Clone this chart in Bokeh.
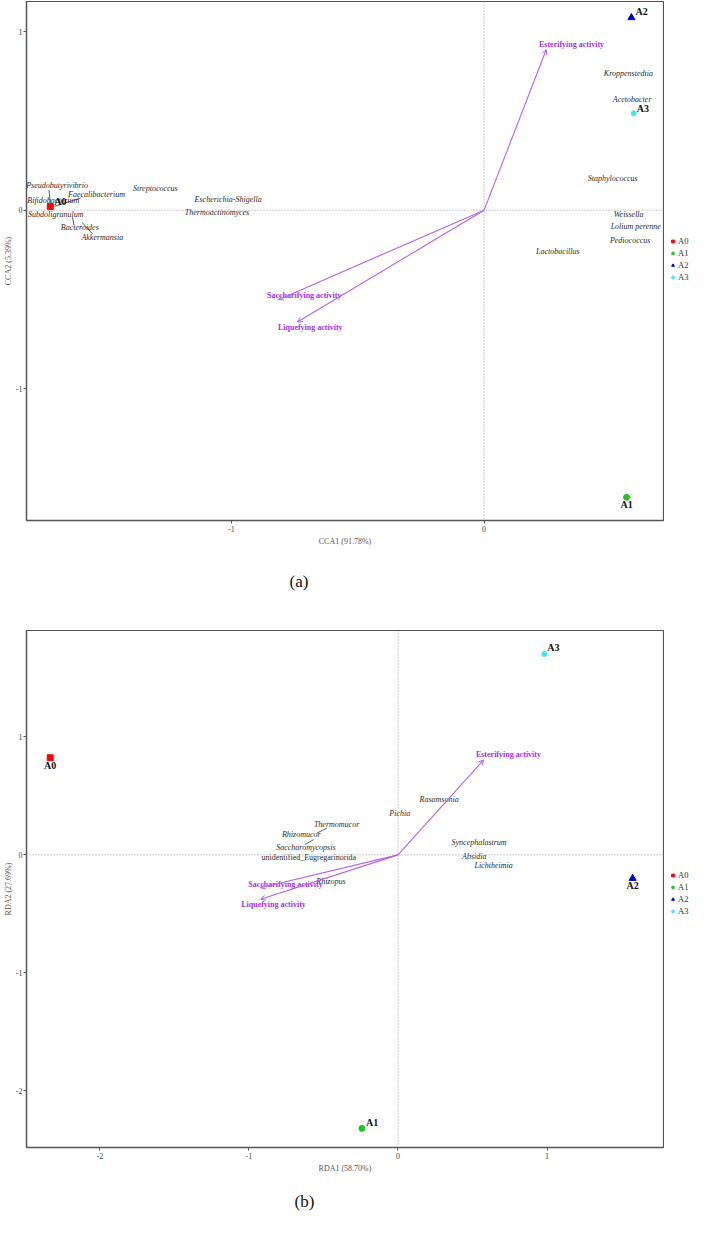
from bokeh.plotting import figure
from bokeh.models import (Range1d, FixedTicker, Span, Arrow, OpenHead, Legend,
                          LegendItem, Title, ColumnDataSource)
from bokeh.layouts import column, row
from bokeh.embed import file_html
from bokeh.resources import INLINE
from bokeh.core.properties import value

# ---------------- data: (a) CCA ----------------
samples = ["A0", "A1", "A2", "A3"]
cca_sx = [-1.717, 0.564, 0.583, 0.592]
cca_sy = [0.020, -1.607, 1.078, 0.542]

cca_env = ["Esterifying activity", "Saccharifying activity", "Liquefying activity"]
cca_env_x = [0.246, -0.814, -0.739]
cca_env_y = [0.899, -0.501, -0.626]
cca_env_lx = [0.346, -0.712, -0.688]
cca_env_ly = [0.927, -0.477, -0.654]

cca_species = ["Pseudobutyrivibrio", "Streptococcus", "Faecalibacterium", "Bifidobacterium",
               "Escherichia-Shigella", "Subdoligranulum", "Thermoactinomyces", "Bacteroides",
               "Akkermansia", "Kroppenstedtia", "Acetobacter", "Staphylococcus", "Weissella",
               "Lolium perenne", "Pediococcus", "Lactobacillus"]
cca_sp_x = [-1.690, -1.301, -1.534, -1.705, -1.013, -1.695, -1.057, -1.600,
            -1.511, 0.571, 0.586, 0.509, 0.572, 0.600, 0.578, 0.292]
cca_sp_y = [0.138, 0.119, 0.085, 0.054, 0.060, -0.024, -0.011, -0.097,
            -0.151, 0.767, 0.622, 0.180, -0.026, -0.091, -0.169, -0.231]
# leader lines (species score -> repelled label)
cca_seg_x0 = [-1.716, -1.700, -1.629, -1.592]
cca_seg_y0 = [0.028, 0.022, -0.039, -0.067]
cca_seg_x1 = [-1.722, -1.598, -1.623, -1.550]
cca_seg_y1 = [0.112, 0.067, -0.085, -0.132]

cca_xlim = [-1.811, 0.710]
cca_ylim = [-1.737, 1.168]
cca_xticks = [-1, 0]
cca_yticks = [-1, 0, 1]
cca_xlabel = "CCA1 (91.78%)"
cca_ylabel = "CCA2 (5.39%)"

# ---------------- data: (b) RDA ----------------
rda_sx = [-2.333, -0.242, 1.574, 0.981]
rda_sy = [0.823, -2.317, -0.199, 1.702]

rda_env = ["Esterifying activity", "Saccharifying activity", "Liquefying activity"]
rda_env_x = [0.574, -0.922, -0.922]
rda_env_y = [0.804, -0.278, -0.376]
rda_env_lx = [0.741, -0.755, -0.835]
rda_env_ly = [0.851, -0.249, -0.418]

rda_species = ["Rasamsonia", "Pichia", "Thermomucor", "Rhizomucor", "Saccharomycopsis",
               "unidentified_Eugregarinorida", "Rhizopus", "Syncephalastrum", "Absidia",
               "Lichtheimia"]
rda_sp_x = [0.276, 0.012, -0.412, -0.649, -0.618, -0.598, -0.450, 0.544, 0.512, 0.641]
rda_sp_y = [0.467, 0.349, 0.261, 0.172, 0.059, -0.025, -0.222, 0.101, -0.011, -0.089]
rda_seg_x0 = [-0.543, -0.623]
rda_seg_y0 = [0.185, 0.088]
rda_seg_x1 = [-0.476, -0.565]
rda_seg_y1 = [0.227, 0.130]

rda_xlim = [-2.492, 1.781]
rda_ylim = [-2.479, 1.901]
rda_xticks = [-2, -1, 0, 1]
rda_yticks = [-2, -1, 0, 1]
rda_xlabel = "RDA1 (58.70%)"
rda_ylabel = "RDA2 (27.69%)"

# ---------------- styles ----------------
SERIF = "Liberation Serif"
marker_types = ["square", "circle", "triangle", "circle"]
marker_colors = ["#FF0000", "#1EC81E", "#0000CC", "#3CEBF0"]
marker_sizes = [6, 6, 7, 5]
ENV_LINE = "#B462F2"
ENV_TEXT = "#A531F0"
SP_TEXT = "#2b2b2b"
AX_COL = "#555555"
MAIN_W = 664
LEG_W = 690 - MAIN_W


def make_panel(sx, sy, env, ex, ey, elx, ely, sp, spx, spy, segs, xlim, ylim,
               xticks, yticks, xlabel, ylabel, lab_off, tag, tag_offset, tag_standoff,
               height, border_top, border_bottom, upright=()):
    p = figure(width=MAIN_W, height=height, output_backend="svg", toolbar_location=None,
               x_range=Range1d(*xlim), y_range=Range1d(*ylim),
               min_border_left=26, min_border_right=1,
               min_border_top=border_top, min_border_bottom=border_bottom)
    p.grid.visible = False
    p.outline_line_color = AX_COL
    p.outline_line_width = 1.2
    p.background_fill_color = "white"
    for ax, ticks, lab in ((p.xaxis, xticks, xlabel), (p.yaxis, yticks, ylabel)):
        ax.ticker = FixedTicker(ticks=ticks)
        ax.major_label_overrides = {t: ("-%d" % abs(t) if t < 0 else "%d" % t) for t in ticks}
        ax.minor_tick_line_color = None
        ax.axis_line_color = AX_COL
        ax.axis_line_width = 1.3
        ax.major_tick_line_color = AX_COL
        ax.major_tick_out = 3
        ax.major_tick_in = 0
        ax.major_label_text_font = SERIF
        ax.major_label_text_font_size = "8px"
        ax.major_label_text_color = "#444444"
        ax.major_label_standoff = 2
        ax.axis_label = lab
        ax.axis_label_text_font = SERIF
        ax.axis_label_text_font_size = "8px"
        ax.axis_label_text_font_style = "normal"
        ax.axis_label_text_color = "#555555"
        ax.axis_label_standoff = 2
    p.yaxis.major_label_standoff = 1
    p.yaxis.axis_label_standoff = 0

    p.add_layout(Span(location=0, dimension="width", line_color="#9a9a9a",
                      line_dash="1 2", line_width=1))
    p.add_layout(Span(location=0, dimension="height", line_color="#9a9a9a",
                      line_dash="1 2", line_width=1))

    # leader lines
    p.segment(x0=segs[0], y0=segs[1], x1=segs[2], y1=segs[3], line_color="#333333",
              line_width=0.8)

    # species labels
    it = [i for i, s in enumerate(sp) if s not in upright]
    up = [i for i, s in enumerate(sp) if s in upright]
    for idx, style in ((it, "italic"), (up, "normal")):
        if not idx:
            continue
        src = ColumnDataSource(dict(x=[spx[i] for i in idx], y=[spy[i] for i in idx],
                                    t=[sp[i] for i in idx]))
        p.text(x="x", y="y", text="t", source=src, text_font=value(SERIF),
               text_font_style=style, text_font_size="8px", text_color=SP_TEXT,
               text_align="center", text_baseline="middle")

    # environmental arrows
    asrc = ColumnDataSource(dict(x0=[0] * len(ex), y0=[0] * len(ey), x1=ex, y1=ey))
    p.add_layout(Arrow(end=OpenHead(size=5, line_color=ENV_LINE, line_width=1),
                       x_start="x0", y_start="y0", x_end="x1", y_end="y1", source=asrc,
                       line_color=ENV_LINE, line_width=1.1))
    p.text(x=elx, y=ely, text=env, text_font=value(SERIF), text_font_style="bold",
           text_font_size="8px", text_color=ENV_TEXT, text_align="center",
           text_baseline="middle")

    # samples
    for i, name in enumerate(samples):
        p.scatter(x=[sx[i]], y=[sy[i]], marker=marker_types[i], size=marker_sizes[i],
                  fill_color=marker_colors[i], line_color=marker_colors[i])
        dx, dy, al = lab_off[i]
        p.text(x=[sx[i]], y=[sy[i]], text=[name], x_offset=dx, y_offset=dy,
               text_font=value(SERIF), text_font_style="bold", text_font_size="10px",
               text_color="#111111", text_align=al, text_baseline="middle")

    p.add_layout(Title(text=tag, align="left", offset=tag_offset, standoff=tag_standoff,
                       text_font=SERIF, text_font_size="17px", text_font_style="normal",
                       text_color="#111111"), "below")
    return p


def make_legend(height, vy):
    q = figure(width=LEG_W, height=height, output_backend="svg", toolbar_location=None,
               x_range=Range1d(0, 1), y_range=Range1d(0, 1),
               x_axis_type=None, y_axis_type=None,
               min_border_left=0, min_border_right=0, min_border_top=0,
               min_border_bottom=0)
    q.grid.visible = False
    q.outline_line_color = None
    items = []
    for i, name in enumerate(samples):
        # legend-only renderer (its point lies outside the visible range)
        r = q.scatter(x=[-10], y=[-10], marker=marker_types[i], size=marker_sizes[i],
                      fill_color=marker_colors[i], line_color=marker_colors[i])
        items.append(LegendItem(label=name, renderers=[r]))
    leg = Legend(items=items, location=(5, vy), padding=0, margin=0, spacing=2,
                 glyph_width=7, glyph_height=10, label_height=10, label_standoff=2,
                 label_text_font=SERIF, label_text_font_size="8.5px",
                 label_text_color="#333333", border_line_alpha=0,
                 background_fill_alpha=0)
    q.add_layout(leg, "center")
    return q


cca_off = [(4, -5, "left"), (0, 7, "center"), (4, -6, "left"), (3, -5, "left")]
rda_off = [(0, 8, "center"), (4, -6, "left"), (0, 7, "center"), (3, -6, "left")]

p1 = make_panel(cca_sx, cca_sy, cca_env, cca_env_x, cca_env_y, cca_env_lx, cca_env_ly,
                cca_species, cca_sp_x, cca_sp_y,
                (cca_seg_x0, cca_seg_y0, cca_seg_x1, cca_seg_y1),
                cca_xlim, cca_ylim, cca_xticks, cca_yticks, cca_xlabel, cca_ylabel,
                cca_off, "(a)", 263, 43, 612, 1, 91)
p2 = make_panel(rda_sx, rda_sy, rda_env, rda_env_x, rda_env_y, rda_env_lx, rda_env_ly,
                rda_species, rda_sp_x, rda_sp_y,
                (rda_seg_x0, rda_seg_y0, rda_seg_x1, rda_seg_y1),
                rda_xlim, rda_ylim, rda_xticks, rda_yticks, rda_xlabel, rda_ylabel,
                rda_off, "(b)", 268, 28, 612, 18, 74,
                upright=("unidentified_Eugregarinorida",))
l1 = make_legend(612, 238)
l2 = make_legend(612, 231)

page = column(row(p1, l1, spacing=0), row(p2, l2, spacing=0), spacing=0)
open("out.html", "w").write(file_html(page, INLINE))
